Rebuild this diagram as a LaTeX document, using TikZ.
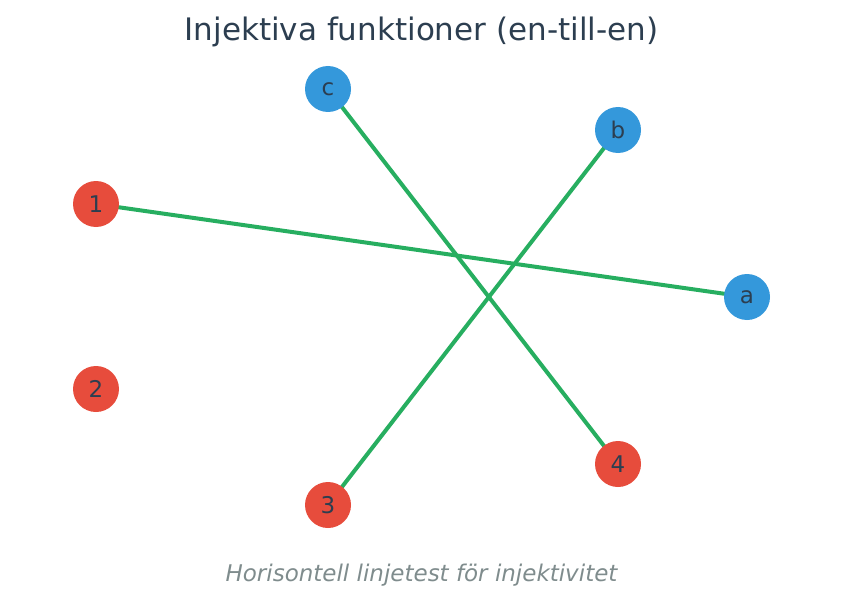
\documentclass[tikz,border=0pt]{standalone}
\usepackage{fontspec}
\setmainfont{DejaVu Sans}
\definecolor{nblue}{HTML}{3498DB}
\definecolor{nred}{HTML}{E74C3C}
\definecolor{egreen}{HTML}{27AE60}
\definecolor{tdark}{HTML}{2C3E50}
\definecolor{tgray}{HTML}{7F8C8D}
\begin{document}
\begin{tikzpicture}[x=1pt,y=-1pt,
  vnode/.style={circle,minimum size=46pt,inner sep=0pt,text=tdark,font=\fontsize{23}{23}\selectfont},
  dom/.style={vnode,fill=nred},
  cod/.style={vnode,fill=nblue},
  edge/.style={draw=egreen,line width=4pt}]
\useasboundingbox (0,0) rectangle (843,607);
\node[font=\fontsize{31}{31}\selectfont,text=tdark] (title) at (421.5,32) {Injektiva funktioner (en-till-en)};
\node[font=\fontsize{23}{23}\selectfont\itshape,text=tgray] (sub) at (421.5,575) {Horisontell linjetest för injektivitet};
\coordinate (pc) at (328,89);
\coordinate (pb) at (618,130);
\coordinate (p1) at (96,204);
\coordinate (pa) at (747,297);
\coordinate (p2) at (96,389);
\coordinate (p4) at (618,464);
\coordinate (p3) at (328,505);
\draw[edge] (p1) -- (pa);
\draw[edge] (pc) -- (p4);
\draw[edge] (pb) -- (p3);
\node[cod] (c) at (pc) {c};
\node[cod] (b) at (pb) {b};
\node[cod] (a) at (pa) {a};
\node[dom] (n1) at (p1) {1};
\node[dom] (n2) at (p2) {2};
\node[dom] (n3) at (p3) {3};
\node[dom] (n4) at (p4) {4};
\end{tikzpicture}
\end{document}
